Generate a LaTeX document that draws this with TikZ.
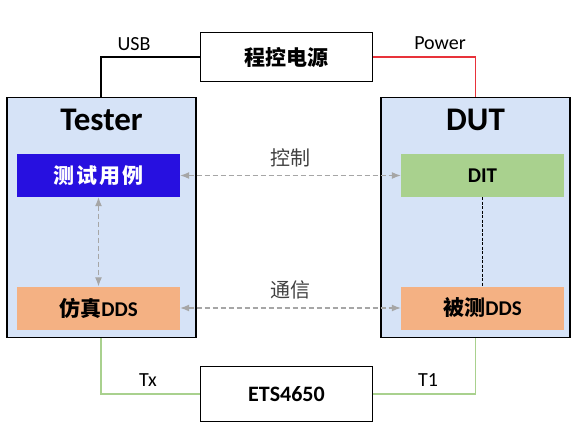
\documentclass[tikz,border=0pt]{standalone}
\usepackage{fontspec}
\setmainfont{Carlito}
\newfontfamily\cjk{Noto Sans CJK SC}
\usetikzlibrary{arrows.meta}
\definecolor{panel}{HTML}{D6E3F7}
\definecolor{casebl}{HTML}{2710E0}
\definecolor{ditgr}{HTML}{A9D18E}
\definecolor{ddsor}{HTML}{F4B183}
\definecolor{lgr}{HTML}{A9D18E}
\definecolor{pwred}{HTML}{E8323A}
\definecolor{dgray}{HTML}{A6A6A6}
\definecolor{lbl}{HTML}{404040}
\tikzset{
  panelbox/.style={draw=black, line width=1.6pt, fill=panel},
  outbox/.style={draw=black, line width=1.2pt, fill=white},
  inner/.style={draw=none, minimum width=163pt, minimum height=43pt, font=\fontsize{21}{24}\selectfont\bfseries},
  ctrl/.style={dgray, line width=1.2pt, dash pattern=on 5pt off 3pt, {Latex[length=9pt,width=7pt]}-{Latex[length=9pt,width=7pt]}},
  wire/.style={line width=1.2pt},
  lab/.style={font=\fontsize{20}{22}\selectfont, text=black},
  midlab/.style={font=\fontsize{20}{22}\selectfont\cjk, text=lbl}
}
\begin{document}
\begin{tikzpicture}[x=1pt,y=-1pt]
\useasboundingbox (0,0) rectangle (580,429);
% panels
\node[panelbox, minimum width=189pt, minimum height=240pt, inner sep=0pt] (tester) at (101.5,217.5) {};
\node[panelbox, minimum width=189pt, minimum height=240pt, inner sep=0pt] (dut) at (475.5,217.5) {};
\node[font=\fontsize{33}{35}\selectfont\bfseries] (testert) at (101.5,120) {Tester};
\node[font=\fontsize{33}{35}\selectfont\bfseries] (dutt) at (475.5,120) {DUT};
% outer boxes
\node[outbox, minimum width=172pt, minimum height=49pt, inner sep=0pt, font=\fontsize{21}{24}\selectfont\cjk\bfseries] (psu) at (286.5,57) {程控电源};
\node[outbox, minimum width=172pt, minimum height=55pt, inner sep=0pt, font=\fontsize{22}{24}\selectfont\bfseries] (ets) at (286.5,394) {ETS4650};
% inner boxes
\node[inner, fill=casebl, text=white, font=\fontsize{21}{24}\selectfont\cjk\bfseries] (case) at (98.5,175.5) {测\hspace{2pt}试\hspace{2pt}用\hspace{2pt}例};
\node[inner, fill=ddsor] (sim) at (98.5,308) {{\cjk\bfseries 仿真}DDS};
\node[inner, fill=ditgr] (dit) at (482.5,175.5) {DIT};
\node[inner, fill=ddsor] (dds) at (482.5,308) {{\cjk\bfseries 被测}DDS};
% wires
\coordinate (usbc) at (101,57);
\coordinate (pwrc) at (475.5,57);
\coordinate (txc) at (101,394);
\coordinate (t1c) at (475.5,394);
\draw[wire, black] (tester.north -| usbc) -- (usbc) -- (psu.west);
\draw[wire, pwred] (psu.east) -- (pwrc) -- (dut.north -| pwrc);
\draw[wire, lgr] (tester.south -| txc) -- (txc) -- (ets.west);
\draw[wire, lgr] (ets.east) -- (t1c) -- (dut.south -| t1c);
\node[lab] (usbl) at (134,44) {USB};
\node[lab] (pwrl) at (440,43) {Power};
\node[lab] (txl) at (148,380) {Tx};
\node[lab] (t1l) at (428,380) {T1};
% dashed links
\draw[ctrl] (case.east) -- (dit.west);
\draw[ctrl] (sim.east) -- (dds.west);
\draw[ctrl] (case.south) -- (sim.north);
\draw[black, line width=1.6pt, dash pattern=on 3pt off 1.5pt] (dit.south) -- (dds.north);
\node[midlab] (ctrll) at (290,158) {控制};
\node[midlab] (comml) at (290,290) {通信};
\end{tikzpicture}
\end{document}
